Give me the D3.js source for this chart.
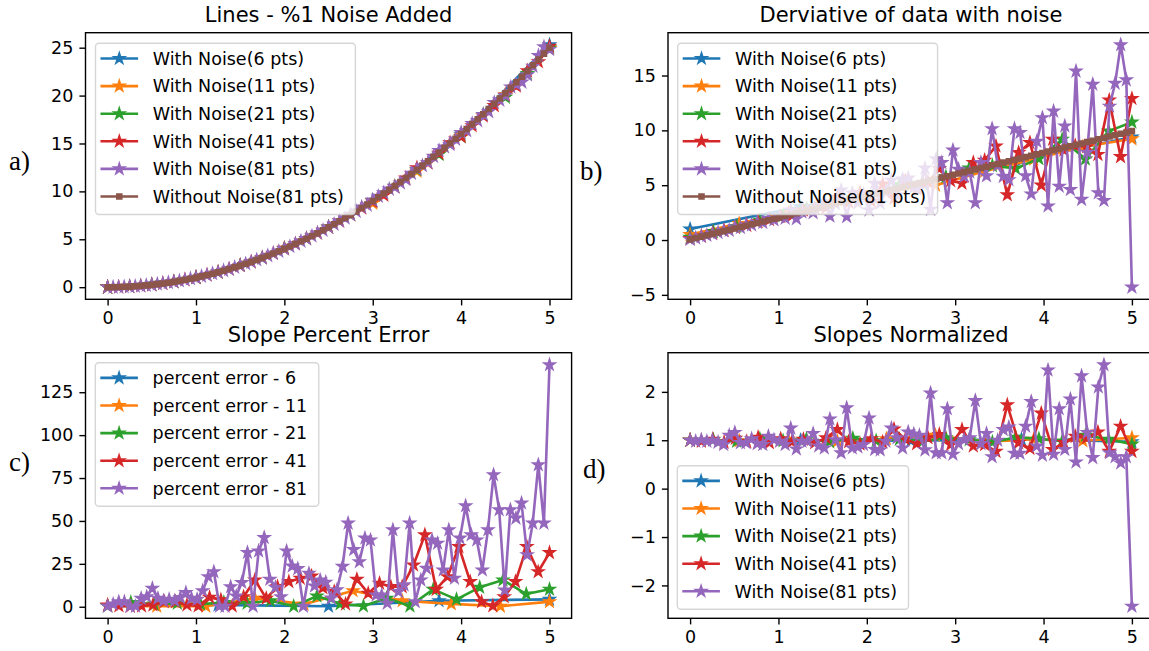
<!DOCTYPE html>
<html><head><meta charset="utf-8">
<script src="https://cdn.jsdelivr.net/npm/d3@7"></script>
<style>
html,body{margin:0;padding:0;background:#fff;}
svg{display:block;}
text{font-family:"DejaVu Sans",sans-serif;}
</style></head><body>
<svg id="fig" width="1149" height="651"></svg>
<script>
// ---------- shared labels ----------
const xTickValues = [0, 1, 2, 3, 4, 5];
const noiseLabels = ["With Noise(6 pts)", "With Noise(11 pts)", "With Noise(21 pts)", "With Noise(41 pts)", "With Noise(81 pts)"];
const cleanLabel = "Without Noise(81 pts)";
const errorLabels = ["percent error - 6", "percent error - 11", "percent error - 21", "percent error - 41", "percent error - 81"];
const titles = ["Lines - %1 Noise Added", "Derviative of data with noise", "Slope Percent Error", "Slopes Normalized"];
const tags = ["a)", "b)", "c)", "d)"];
const yTicksA = [0, 5, 10, 15, 20, 25];
const yTicksB = [-5, 0, 5, 10, 15];
const yTicksC = [0, 25, 50, 75, 100, 125];
const yTicksD = [-2, -1, 0, 1, 2];

// ---------- (a) sampled y = x^2 with noise ----------
const linesN6 = [0, 1.0, 4.03, 9.03, 15.95, 25.3];
const linesN11 = [0, 0.25, 1.0, 2.26, 4.08, 6.25, 8.76, 12.1, 15.85, 20.1, 24.9];
const linesN21 = [0, 0.06, 0.25, 0.56, 1.01, 1.55, 2.26, 3.05, 4.03, 5.05, 6.27, 7.55, 9.05, 10.52, 12.25, 13.86, 15.70, 18.0, 19.83, 22.3, 24.99];
const linesN41 = [0, 0.02, 0.06, 0.14, 0.25, 0.39, 0.56, 0.77, 1.0, 1.27, 1.56, 1.89, 2.25, 2.64, 3.07, 3.51, 4.0, 4.52, 5.07, 5.63,
  6.25, 6.89, 7.56, 8.27, 8.95, 9.59, 10.48, 11.38, 12.46, 12.97, 13.97, 15.08, 15.70, 16.85, 17.87, 18.95, 20.01, 20.99, 22.58, 23.53, 25.14];
const linesN81 = [0, 0.00, 0.02, 0.04, 0.07, 0.10, 0.14, 0.19, 0.26, 0.32, 0.39, 0.48, 0.56, 0.66, 0.77, 0.89, 1.00, 1.13, 1.26, 1.42,
  1.56, 1.72, 1.88, 2.07, 2.26, 2.44, 2.63, 2.86, 3.05, 3.29, 3.53, 3.74, 4.01, 4.25, 4.51, 4.80, 5.06, 5.34, 5.65, 5.93,
  6.26, 6.56, 6.90, 7.21, 7.57, 7.91, 8.35, 8.56, 9.08, 9.48, 9.84, 10.23, 10.44, 10.88, 11.25, 11.88, 12.31, 12.67, 13.02, 13.65,
  14.26, 14.63, 14.89, 15.45, 16.15, 16.34, 17.08, 17.38, 18.03, 18.32, 19.28, 19.52, 20.02, 20.90, 21.17, 21.40, 22.16, 23.05, 24.17, 25.08, 24.81];
const linesClean81 = [0, 0.00, 0.02, 0.04, 0.06, 0.10, 0.14, 0.19, 0.25, 0.32, 0.39, 0.47, 0.56, 0.66, 0.77, 0.88, 1.00, 1.13, 1.27, 1.41,
  1.56, 1.72, 1.89, 2.07, 2.25, 2.44, 2.64, 2.85, 3.06, 3.29, 3.52, 3.75, 4.00, 4.25, 4.52, 4.79, 5.06, 5.35, 5.64, 5.94,
  6.25, 6.57, 6.89, 7.22, 7.56, 7.91, 8.27, 8.63, 9.00, 9.38, 9.77, 10.16, 10.56, 10.97, 11.39, 11.82, 12.25, 12.69, 13.14, 13.60,
  14.06, 14.54, 15.02, 15.50, 16.00, 16.50, 17.02, 17.54, 18.06, 18.60, 19.14, 19.69, 20.25, 20.82, 21.39, 21.97, 22.56, 23.16, 23.77, 24.38, 25.00];

// ---------- (b) forward-difference slopes ----------
const slopeN6 = [1.0, 3.03, 5.0, 7.25, 9.39];
const slopeN11 = [0.5, 1.5, 2.5, 3.67, 4.43, 4.99, 6.27, 7.37, 8.5, 9.22];
const slopeN21 = [0.25, 0.77, 1.23, 1.79, 2.22, 2.82, 3.19, 3.88, 4.26, 5.04, 5.16, 5.77, 6.56, 6.78, 6.52, 7.42, 9.18, 7.38, 9.93, 10.75];
const slopeN41 = [0.126, 0.37, 0.63, 0.87, 1.14, 1.34, 1.67, 1.86, 2.14, 2.24, 2.73, 2.89, 2.94, 3.90, 3.45, 4.33, 3.52, 5.10, 3.80, 5.41,
  4.67, 5.29, 6.5, 5.4, 5.18, 7.06, 7.27, 8.57, 4.12, 7.97, 8.88, 5.0, 9.18, 8.2, 8.6, 8.5, 7.8, 12.75, 7.6, 12.9];
const slopeN81 = [0.06, 0.19, 0.32, 0.425, 0.56, 0.69, 0.85, 0.88, 1.18, 1.13, 1.36, 1.38, 1.62, 1.60, 1.96, 1.84, 2.15, 1.98, 2.72, 1.94,
  2.56, 2.69, 2.49, 3.12, 3.49, 2.18, 3.31, 4.55, 2.13, 4.28, 3.38, 4.17, 2.74, 5.18, 3.35, 4.44, 5.45, 4.12, 5.56, 5.64,
  4.8, 4.68, 6.55, 2.79, 7.4, 7.06, 3.4, 8.2, 6.45, 5.8, 6.2, 3.4, 7.06, 5.85, 10.15, 6.8, 5.8, 5.5, 10.15, 9.8,
  5.85, 4.2, 9.0, 11.15, 3.1, 11.75, 4.9, 10.4, 4.6, 15.4, 3.7, 8.0, 14.2, 4.3, 3.6, 12.2, 14.3, 17.8, 14.6, -4.3];
const slopeClean81 = [0.06, 0.19, 0.31, 0.44, 0.56, 0.69, 0.81, 0.94, 1.06, 1.19, 1.31, 1.44, 1.56, 1.69, 1.81, 1.94, 2.06, 2.19, 2.31, 2.44,
  2.56, 2.69, 2.81, 2.94, 3.06, 3.19, 3.31, 3.44, 3.56, 3.69, 3.81, 3.94, 4.06, 4.19, 4.31, 4.44, 4.56, 4.69, 4.81, 4.94,
  5.06, 5.19, 5.31, 5.44, 5.56, 5.69, 5.81, 5.94, 6.06, 6.19, 6.31, 6.44, 6.56, 6.69, 6.81, 6.94, 7.06, 7.19, 7.31, 7.44,
  7.56, 7.69, 7.81, 7.94, 8.06, 8.19, 8.31, 8.44, 8.56, 8.69, 8.81, 8.94, 9.06, 9.19, 9.31, 9.44, 9.56, 9.69, 9.81, 9.94];

// ---------- (c) slope percent error ----------
const errN6 = [0.4, 1.0, 0.3, 3.5, 4.3];
const errN11 = [0.5, 0.3, 0.3, 4.9, 1.5, 9.3, 3.5, 1.7, 0.3, 2.9];
const errN21 = [0.5, 2.5, 1.5, 2.0, 1.5, 2.5, 2.0, 3.5, 0.3, 6.2, 1.7, 0.4, 4.9, 0.4, 10.1, 4.3, 11.3, 15.6, 7.4, 10.2];
const errN41 = [1.0, 0.5, 0.3, 0.4, 1.0, 2.9, 2.9, 1.0, 0.5, 5.5, 4.0, 0.4, 5.8, 15.6, 4.9, 11.7, 14.6, 16.6, 17.9, 11.0,
  8.8, 1.6, 16.0, 7.8, 13.7, 11.7, 11.7, 24.3, 41.9, 10.1, 17.5, 35.0, 14.6, 2.9, 0.5, 5.8, 14.6, 35.0, 20.4, 31.5];
const errN81 = [0.4, 1.5, 2.9, 2.9, 0.3, 0.3, 4.9, 5.8, 10.7, 4.9, 3.5, 4.3, 3.5, 5.4, 8.2, 4.9, 4.3, 9.3, 17.5, 20.4,
  0.3, 0.3, 11.6, 6.2, 14.1, 31.6, 0.3, 32.5, 40.3, 16.0, 11.3, 5.8, 32.5, 23.7, 22.2, 0.3, 19.4, 12.1, 15.6, 14.3,
  5.0, 9.9, 23.5, 48.7, 33.3, 26.2, 40.0, 38.9, 6.8, 6.8, 2.0, 44.8, 8.8, 12.7, 48.7, 2.9, 15.6, 22.4, 38.9, 37.0,
  21.4, 44.8, 16.6, 40.0, 58.8, 41.9, 38.9, 21.4, 44.8, 76.9, 56.5, 9.7, 56.5, 51.6, 60.4, 30.2, 48.7, 82.7, 48.7, 141.0];

// ---------- (d) normalized slopes ----------
const normN6 = [1.0, 1.0, 0.99, 1.02, 0.97];
const normN11 = [1.0, 0.99, 1.02, 0.98, 1.03, 1.1, 0.97, 1.02, 0.99, 1.05];
const normN21 = [1.0, 1.01, 0.98, 1.03, 0.99, 1.02, 0.97, 1.04, 0.99, 1.02, 0.98, 1.05, 1.01, 0.96, 1.06, 1.03, 0.98, 1.1, 1.02, 0.92];
const normN41 = [1.0, 0.98, 1.02, 0.96, 1.04, 0.97, 1.06, 0.95, 1.03, 0.97, 1.02, 0.95, 1.05, 1.22, 0.97, 0.92, 1.03, 0.96, 1.23, 1.02,
  0.93, 1.05, 1.12, 0.91, 1.22, 0.88, 0.91, 0.77, 1.73, 0.95, 0.83, 1.56, 0.81, 0.95, 1.08, 1.05, 1.17, 0.77, 1.29, 0.77];
const normN81 = [1.0, 0.98, 1.01, 0.98, 1.0, 0.96, 0.91, 1.10, 1.16, 0.95, 0.95, 1.03, 0.93, 0.91, 1.08, 1.01, 0.98, 0.91, 1.25, 0.82,
  0.98, 0.98, 1.14, 0.88, 0.84, 1.44, 1.01, 0.74, 1.67, 0.84, 0.86, 0.91, 1.46, 0.81, 0.80, 0.98, 1.25, 1.05, 0.84, 1.17,
  1.13, 1.10, 0.80, 1.975, 0.74, 0.74, 1.65, 0.71, 0.93, 1.01, 1.05, 1.82, 0.93, 1.14, 0.66, 1.0, 1.22, 1.27, 0.73, 0.73,
  1.29, 1.80, 0.88, 0.69, 2.45, 0.71, 1.65, 0.81, 1.85, 0.55, 2.33, 1.16, 0.64, 2.10, 2.56, 0.74, 0.66, 0.53, 0.66, -2.43];

// ---------- drawing ----------
const W = 1149, H = 651;
const colors = ["#1f77b4", "#ff7f0e", "#2ca02c", "#d62728", "#9467bd", "#8c564b"];
const FS = 17.5, TITLE_FS = 21;
const svg = d3.select("#fig");
svg.append("rect").attr("width", W).attr("height", H).attr("fill", "#fff");

// evenly spaced sample positions on [0, 5]
const grid = n => d3.range(n).map(i => i * 5 / (n - 1));

function starPath(r) {
  const ri = r * 0.381966, pts = [];
  for (let i = 0; i < 10; i++) {
    const a = -Math.PI / 2 + i * Math.PI / 5, rr = i % 2 ? ri : r;
    pts.push([rr * Math.cos(a), rr * Math.sin(a)]);
  }
  return "M" + pts.map(p => p[0].toFixed(2) + "," + p[1].toFixed(2)).join("L") + "Z";
}
const STAR = starPath(5.5);
const SQUARE = "M-2.4,-2.4H2.4V2.4H-2.4Z";

const panels = [
  { L: 85.5, R: 571.6, T: 32.7, B: 299.3, title: titles[0], yTicks: yTicksA,
    series: [linesN6, linesN11, linesN21, linesN41, linesN81, linesClean81],
    labels: noiseLabels.concat([cleanLabel]), legend: { x: 95.5, y: 43.3 } },
  { L: 668, R: 1154, T: 32.7, B: 299.3, title: titles[1], yTicks: yTicksB,
    series: [slopeN6, slopeN11, slopeN21, slopeN41, slopeN81, slopeClean81],
    labels: noiseLabels.concat([cleanLabel]), legend: { x: 677.7, y: 43.3 } },
  { L: 85.5, R: 571.6, T: 352.7, B: 618.3, title: titles[2], yTicks: yTicksC,
    series: [errN6, errN11, errN21, errN41, errN81],
    labels: errorLabels, legend: { x: 95.3, y: 362.7 } },
  { L: 668, R: 1154, T: 352.7, B: 618.3, title: titles[3], yTicks: yTicksD,
    series: [normN6, normN11, normN21, normN41, normN81],
    labels: noiseLabels, legend: { x: 677.3, bottom: 609.3 } }
];

panels.forEach((p, pi) => {
  const g = svg.append("g");
  const x = d3.scaleLinear().domain([-0.25, 5.25]).range([p.L, p.R]);
  const [lo, hi] = d3.extent(d3.merge(p.series));
  const m = (hi - lo) * 0.05;
  const y = d3.scaleLinear().domain([lo - m, hi + m]).range([p.B, p.T]);

  const clipId = "clip" + pi;
  svg.append("clipPath").attr("id", clipId).append("rect")
    .attr("x", p.L).attr("y", p.T).attr("width", p.R - p.L).attr("height", p.B - p.T);
  const plot = g.append("g").attr("clip-path", `url(#${clipId})`);
  const line = d3.line();

  p.series.forEach((vals, si) => {
    const xs = grid(vals.length);
    const pts = vals.map((v, k) => [x(xs[k]), y(v)]);
    const c = colors[si];
    plot.append("path").attr("d", line(pts)).attr("fill", "none").attr("stroke", c)
      .attr("stroke-width", 2.625).attr("stroke-linejoin", "round").attr("stroke-linecap", "square");
    const isClean = si === 5;
    plot.append("g").selectAll("path").data(pts).join("path")
      .attr("transform", d => `translate(${d[0]},${d[1]})`)
      .attr("d", isClean ? SQUARE : STAR)
      .attr("fill", c).attr("stroke", c).attr("stroke-width", 1.75).attr("stroke-linejoin", "miter");
  });

  // axes
  const ax = g.append("g").attr("transform", `translate(0,${p.B})`)
    .call(d3.axisBottom(x).tickValues(xTickValues).tickSize(6.1).tickPadding(6.1).tickFormat(d3.format("d")));
  const ay = g.append("g").attr("transform", `translate(${p.L},0)`)
    .call(d3.axisLeft(y).tickValues(p.yTicks).tickSize(6.1).tickPadding(6.1).tickFormat(d3.format("d")));
  [ax, ay].forEach(a => {
    a.select(".domain").remove();
    a.selectAll(".tick line").attr("stroke", "#000").attr("stroke-width", 1.4);
    a.selectAll(".tick text").attr("fill", "#000").style("font-family", "DejaVu Sans").style("font-size", FS + "px");
  });

  // frame
  g.append("rect").attr("x", p.L).attr("y", p.T).attr("width", p.R - p.L).attr("height", p.B - p.T)
    .attr("fill", "none").attr("stroke", "#000").attr("stroke-width", 1.4);

  // title
  g.append("text").attr("x", (p.L + p.R) / 2).attr("y", p.T - 10.5).attr("text-anchor", "middle")
    .style("font-size", TITLE_FS + "px").attr("fill", "#000").text(p.title);

  // legend
  const n = p.labels.length, rowH = 27.6, padTop = 15.2, padBot = 18;
  const boxH = padTop + (n - 1) * rowH + padBot;
  const lx = p.legend.x;
  const ly = p.legend.y !== undefined ? p.legend.y : p.legend.bottom - boxH;
  const lg = g.append("g");
  const box = lg.append("rect").attr("x", lx).attr("y", ly).attr("height", boxH).attr("rx", 3.5)
    .attr("fill", "#fff").attr("fill-opacity", 0.8).attr("stroke", "#cccccc").attr("stroke-opacity", 0.8).attr("stroke-width", 1.4);
  let maxW = 0;
  p.labels.forEach((lab, i) => {
    const cy = ly + padTop + i * rowH, c = colors[i];
    lg.append("line").attr("x1", lx + 6.3).attr("x2", lx + 41.3).attr("y1", cy).attr("y2", cy)
      .attr("stroke", c).attr("stroke-width", 2.625).attr("stroke-linecap", "square");
    lg.append("path").attr("transform", `translate(${lx + 23.8},${cy})`).attr("d", i === 5 ? SQUARE : STAR)
      .attr("fill", c).attr("stroke", c).attr("stroke-width", 1.75);
    const t = lg.append("text").attr("x", lx + 57.3).attr("y", cy).attr("dy", "0.36em")
      .style("font-size", FS + "px").attr("fill", "#000").text(lab);
    maxW = Math.max(maxW, t.node().getComputedTextLength());
  });
  box.attr("width", 57.3 + maxW + 11.5);
});

// panel tags
const tagPos = [[9, 170], [580, 180], [9, 471], [583, 478]];
tags.forEach((t, i) => {
  svg.append("text").attr("x", tagPos[i][0]).attr("y", tagPos[i][1])
    .style("font-family", "'Liberation Serif', 'Times New Roman', serif").style("font-size", "27px")
    .attr("fill", "#000").text(t);
});
</script>
</body></html>
